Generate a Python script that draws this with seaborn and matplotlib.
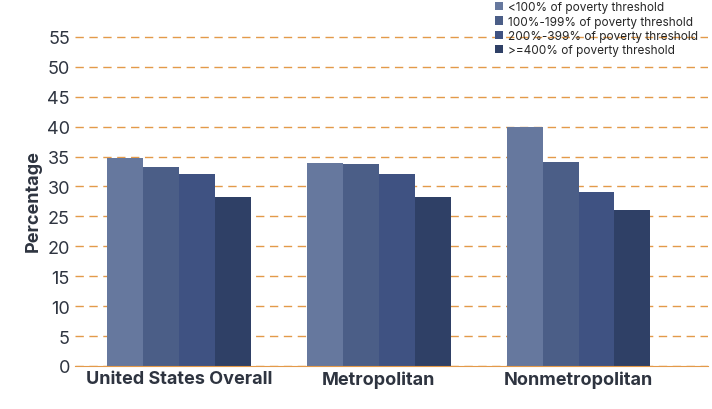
import matplotlib
matplotlib.use("Agg")
import matplotlib.pyplot as plt
import pandas as pd
import seaborn as sns

groups = ["United States Overall", "Metropolitan", "Nonmetropolitan"]
levels = ["<100% of poverty threshold", "100%-199% of poverty threshold",
          "200%-399% of poverty threshold", ">=400% of poverty threshold"]
below_100 = [34.8, 34.0, 39.9]
from_100_199 = [33.2, 33.7, 34.1]
from_200_399 = [32.0, 32.0, 29.1]
above_400 = [28.3, 28.3, 26.0]
colors = ["#66789e", "#4b5e87", "#3f5282", "#2f4066"]

rows = []
for lvl, vals in zip(levels, [below_100, from_100_199, from_200_399, above_400]):
    for g, v in zip(groups, vals):
        rows.append({"group": g, "level": lvl, "value": v})
df = pd.DataFrame(rows)

sns.set_style("white")
plt.rcParams["font.family"] = ["Inter", "DejaVu Sans"]

fig = plt.figure(figsize=(7.12, 4.10), dpi=100)
ax = fig.add_axes([0.105, 0.105, 0.89, 0.81])
sns.barplot(df, x="group", y="value", hue="level", palette=colors,
            width=0.72, saturation=1, linewidth=0, ax=ax, zorder=2)
ax.set_xlim(-0.52, 2.65)
ax.set_ylim(0, 55.5)
ax.set_yticks(range(0, 56, 5))
ax.yaxis.grid(True, color="#e39a4a", linestyle=(0, (6, 4)), linewidth=1, zorder=0)
ax.set_axisbelow(True)
for s in ["top", "right", "left"]:
    ax.spines[s].set_visible(False)
ax.spines["bottom"].set_color("#e39a4a")
ax.tick_params(axis="y", labelsize=13, colors="#2e3440", length=0)
ax.tick_params(axis="x", labelsize=13, colors="#2e3440", length=0, pad=3)
for t in ax.get_xticklabels():
    t.set_fontweight("bold")
ax.set_xlabel("")
ax.set_ylabel("Percentage", fontsize=13, fontweight="bold", color="#2e3440")
ax.legend(loc="upper right", bbox_to_anchor=(1.0, 1.13), frameon=False,
          fontsize=8.5, handlelength=0.7, handleheight=0.7, handletextpad=0.4,
          labelspacing=0.2)
fig.savefig("out.png")
